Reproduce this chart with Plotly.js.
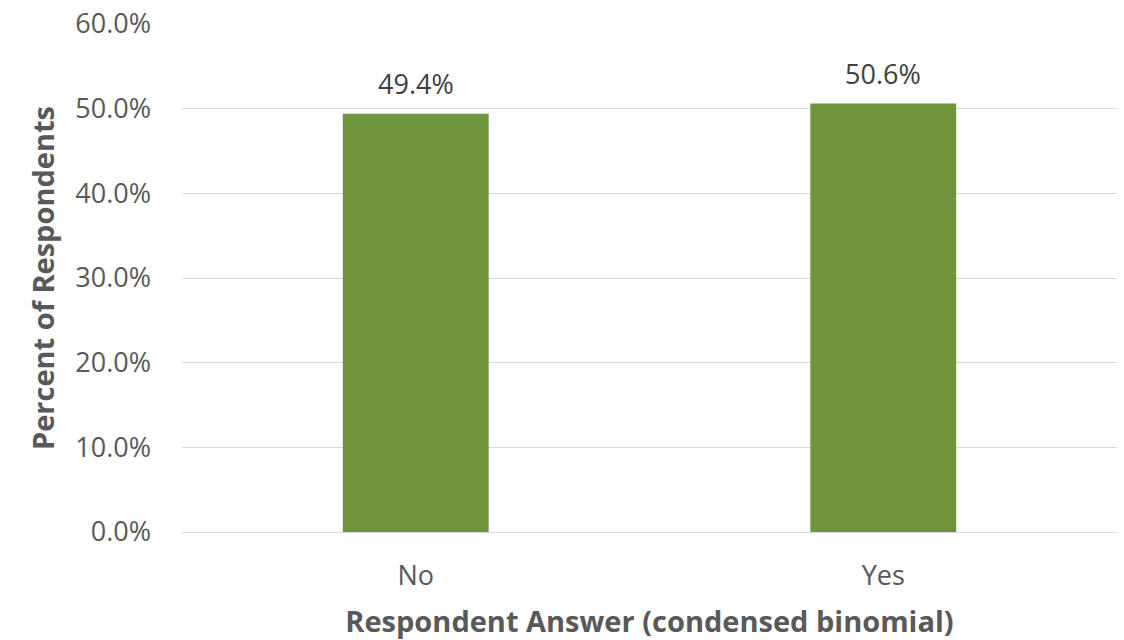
<!DOCTYPE html>
<html>
<head>
<meta charset="utf-8">
<script src="https://cdn.plot.ly/plotly-3.0.1.min.js"></script>
<style>
  html, body { margin: 0; padding: 0; background: #ffffff; }
  #chart { width: 1124px; height: 640px; }
</style>
</head>
<body>
<div id="chart"></div>
<script>
// Survey answers, condensed to a yes/no split
const categories = ['No', 'Yes'];
const shares = [0.494, 0.506];
const valueLabels = ['49.4%', '50.6%'];
const yTickValues = [0, 0.1, 0.2, 0.3, 0.4, 0.5, 0.6];

const FONT = '"Open Sans", "Noto Sans", sans-serif';
const GREEN = '#6f953c';

const trace = {
  type: 'bar',
  x: categories,
  y: shares,
  marker: { color: GREEN, line: { width: 0 } },
  hoverinfo: 'x+y'
};

// value labels sitting above each bar
const labelNotes = categories.map((c, i) => ({
  x: c,
  y: shares[i],
  xref: 'x',
  yref: 'y',
  text: valueLabels[i],
  showarrow: false,
  yanchor: 'bottom',
  yshift: 10,
  font: { family: FONT, size: 27, color: '#404040' }
}));

const layout = {
  width: 1124,
  height: 640,
  margin: { l: 182, r: 7, t: 24, b: 108 },
  paper_bgcolor: '#ffffff',
  plot_bgcolor: '#ffffff',
  showlegend: false,
  bargap: 0.688,
  font: { family: FONT, color: '#595959' },
  xaxis: {
    type: 'category',
    showgrid: false,
    showline: true,
    linecolor: '#d9d9d9',
    linewidth: 1,
    ticks: '',
    ticklabelstandoff: 20,
    tickfont: { family: FONT, size: 27, color: '#595959' },
    title: {
      text: 'Respondent Answer (condensed binomial)',
      font: { family: FONT, size: 29, color: '#595959', weight: 'bold' },
      standoff: 19
    },
    automargin: false
  },
  yaxis: {
    range: [0, 0.6],
    tickvals: yTickValues,
    tickformat: '.1%',
    showgrid: true,
    gridcolor: '#d9d9d9',
    gridwidth: 1,
    zeroline: false,
    showline: false,
    ticks: '',
    ticklabelstandoff: 30,
    tickfont: { family: FONT, size: 27, color: '#595959' },
    title: {
      text: 'Percent of Respondents',
      font: { family: FONT, size: 29, color: '#595959', weight: 'bold' },
      standoff: 12
    },
    automargin: false
  },
  annotations: labelNotes
};

Plotly.newPlot('chart', [trace], layout, { displayModeBar: false, staticPlot: true });
</script>
</body>
</html>
